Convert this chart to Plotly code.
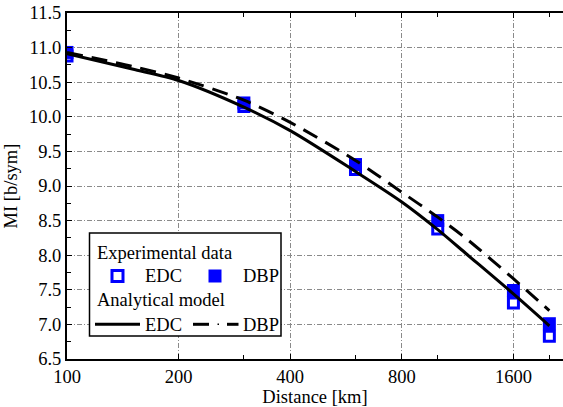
import plotly.graph_objects as go
import math

# ---- data ----
exp_distance_km = [100, 300, 600, 1000, 1600, 2000]
exp_edc_mi = [10.88, 10.15, 9.24, 8.38, 7.31, 6.83]
exp_dbp_mi = [10.93, 10.20, 9.31, 8.50, 7.49, 7.01]

model_distance_km = [100, 150, 200, 300, 400, 600, 800, 1000, 1200, 1600, 2000]
model_edc_mi = [10.91, 10.69, 10.525, 10.14, 9.80, 9.21, 8.77, 8.37, 8.01, 7.44, 6.98]
model_dbp_mi = [10.93, 10.73, 10.56, 10.24, 9.92, 9.37, 8.91, 8.55, 8.23, 7.66, 7.20]

x_tick_vals = [100, 200, 400, 800, 1600]
x_tick_text = ["100", "200", "400", "800", "1600"]
x_minor_ticks = [300, 600, 1000, 2000]

W, H = 563, 407
L, R, T, B = 67, 0, 13, 48
FONT = "Liberation Serif, Times New Roman, serif"
FS = 18.5
BLUE = "#0000ff"

fig = go.Figure()
fig.add_trace(go.Scatter(x=exp_distance_km, y=exp_edc_mi, mode="markers", name="EDC exp",
                         marker=dict(symbol="square", size=10, color="white",
                                     line=dict(color=BLUE, width=3))))
fig.add_trace(go.Scatter(x=exp_distance_km, y=exp_dbp_mi, mode="markers", name="DBP exp",
                         marker=dict(symbol="square", size=13, color=BLUE, line=dict(width=0))))
fig.add_trace(go.Scatter(x=model_distance_km, y=model_edc_mi, mode="lines", name="EDC model",
                         line=dict(color="black", width=3, shape="spline", smoothing=0.8)))
fig.add_trace(go.Scatter(x=model_distance_km, y=model_dbp_mi, mode="lines", name="DBP model",
                         line=dict(color="black", width=3, dash="16px,9px", shape="spline", smoothing=0.8)))

pw = W - L - R
ph = H - T - B

def px2x(px):
    return (px - L) / pw

def px2y(py):
    return (H - B - py) / ph

shapes = []
annotations = []
shapes.append(dict(type="rect", xref="paper", yref="paper",
                   x0=px2x(89.5), x1=px2x(281), y0=px2y(336), y1=px2y(233),
                   line=dict(color="black", width=1.5), fillcolor="white", layer="above"))
shapes.append(dict(type="rect", xref="paper", yref="paper",
                   x0=px2x(112), x1=px2x(123), y0=px2y(281.5), y1=px2y(270.5),
                   line=dict(color=BLUE, width=3), fillcolor="white", layer="above"))
shapes.append(dict(type="rect", xref="paper", yref="paper",
                   x0=px2x(208.5), x1=px2x(221.5), y0=px2y(282.5), y1=px2y(269.5),
                   line=dict(width=0), fillcolor=BLUE, layer="above"))
shapes.append(dict(type="line", xref="paper", yref="paper",
                   x0=px2x(95), x1=px2x(140), y0=px2y(324.3), y1=px2y(324.3),
                   line=dict(color="black", width=3), layer="above"))
shapes.append(dict(type="line", xref="paper", yref="paper",
                   x0=px2x(193), x1=px2x(209), y0=px2y(324.3), y1=px2y(324.3),
                   line=dict(color="black", width=3), layer="above"))
shapes.append(dict(type="line", xref="paper", yref="paper",
                   x0=px2x(217.5), x1=px2x(219), y0=px2y(324.3), y1=px2y(324.3),
                   line=dict(color="black", width=1.5), layer="above"))
shapes.append(dict(type="line", xref="paper", yref="paper",
                   x0=px2x(227), x1=px2x(238.5), y0=px2y(324.3), y1=px2y(324.3),
                   line=dict(color="black", width=3), layer="above"))

def txt(s, x, y):
    annotations.append(dict(text=s, xref="paper", yref="paper", x=px2x(x), y=px2y(y),
                            xanchor="left", yanchor="middle", showarrow=False,
                            font=dict(family=FONT, size=FS, color="black")))

txt("Experimental data", 95, 253)
txt("EDC", 143, 276)
txt("DBP", 241, 276)
txt("Analytical model", 95, 300)
txt("EDC", 143, 324.5)
txt("DBP", 241, 324.5)

grid_dash = "5px,2px,1px,2px"

fig.update_layout(
    width=W, height=H,
    margin=dict(l=L, r=R, t=T, b=B, pad=0),
    paper_bgcolor="white", plot_bgcolor="white",
    showlegend=False,
    font=dict(family=FONT, size=FS, color="black"),
    shapes=shapes, annotations=annotations,
    xaxis=dict(type="log", range=[2, math.log10(2177)],
               tickmode="array", tickvals=x_tick_vals, ticktext=x_tick_text,
               ticks="inside", ticklen=5, tickcolor="black", tickwidth=1,
               showline=True, linecolor="black", linewidth=2, mirror="ticks",
               showgrid=True, gridcolor="#8a8a8a", gridwidth=1, griddash=grid_dash,
               zeroline=False,
               minor=dict(tickmode="array", tickvals=x_minor_ticks, ticks="inside",
                          ticklen=4, tickcolor="black", showgrid=False),
               title=dict(text="Distance [km]", standoff=2, font=dict(family=FONT, size=FS)),
               tickfont=dict(family=FONT, size=FS)),
    yaxis=dict(range=[6.5, 11.5], tickmode="linear", tick0=6.5, dtick=0.5,
               tickformat=".1f",
               ticks="inside", ticklen=5, tickcolor="black", tickwidth=1,
               showline=True, linecolor="black", linewidth=2, mirror=False,
               showgrid=True, gridcolor="#8a8a8a", gridwidth=1, griddash=grid_dash,
               zeroline=False,
               minor=dict(dtick=0.25, tick0=6.5, ticks="inside", ticklen=4,
                          tickcolor="black", showgrid=False),
               title=dict(text="MI [b/sym]", standoff=6, font=dict(family=FONT, size=FS)),
               tickfont=dict(family=FONT, size=FS)),
)

fig.write_html("out.html", config={"displayModeBar": False},
               post_script="document.body.style.margin='0px';document.body.style.padding='0px';")
